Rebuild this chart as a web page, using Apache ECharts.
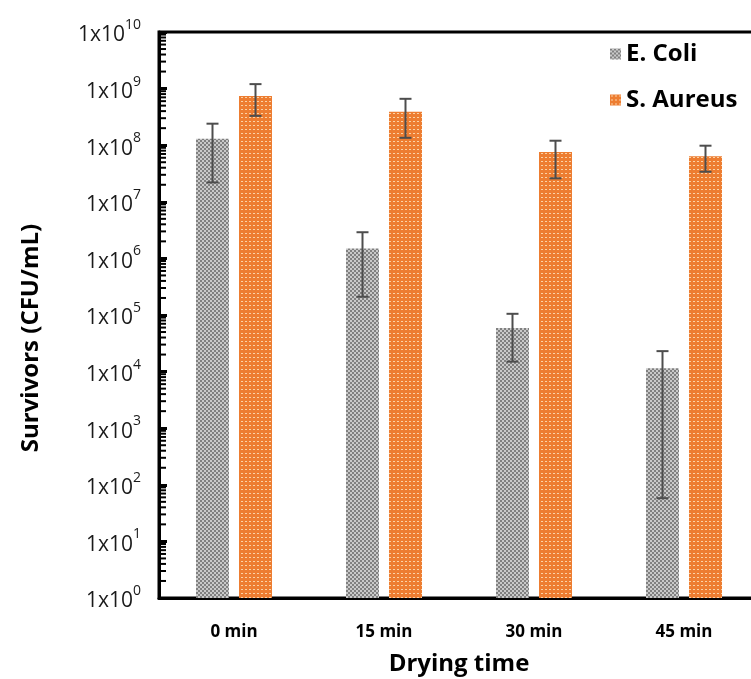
<!DOCTYPE html>
<html>
<head>
<meta charset="utf-8">
<script src="https://cdn.jsdelivr.net/npm/echarts@6/dist/echarts.min.js"></script>
<style>
  html, body { margin: 0; padding: 0; background: #fff; }
  #chart { width: 751px; height: 679px; }
</style>
</head>
<body>
<div id="chart"></div>
<script>
const categories = ['0 min', '15 min', '30 min', '45 min']
const eColi = [1.3e8, 1.5e6, 5.9e4, 1.15e4]
const eColiHigh = [2.4e8, 2.9e6, 1.05e5, 2.3e4]
const eColiLow = [2.2e7, 2.1e5, 1.5e4, 58]
const sAureus = [7.4e8, 3.9e8, 7.6e7, 6.4e7]
const sAureusHigh = [1.2e9, 6.6e8, 1.2e8, 9.8e7]
const sAureusLow = [3.3e8, 1.35e8, 2.6e7, 3.4e7]

// log axis decades 10^0 .. 10^10, minor ticks at 2..9 in each decade
const decades = [0, 1, 2, 3, 4, 5, 6, 7, 8, 9]
const minorSteps = [2, 3, 4, 5, 6, 7, 8, 9]
const minorTickValues = []
decades.forEach(function (d) {
  minorSteps.forEach(function (m) {
    minorTickValues.push(m * Math.pow(10, d))
  })
})

// bar patterns
function makePattern(size, bg, fg, dots) {
  const c = document.createElement('canvas')
  c.width = size
  c.height = size
  const ctx = c.getContext('2d')
  ctx.fillStyle = bg
  ctx.fillRect(0, 0, size, size)
  ctx.fillStyle = fg
  dots.forEach(function (d) {
    ctx.fillRect(d[0], d[1], d[2], d[3])
  })
  return {image: c, repeat: 'repeat'}
}

const grayPattern = makePattern(4, '#c9c9c9', '#808080', [[0, 0, 2, 2], [2, 2, 2, 2]])
const orangePattern = makePattern(4, '#ED7D31', '#fbd2a6', [[1, 1, 2, 1]])

const barWidth = 33
const barGapPx = 10
const halfStep = (barWidth + barGapPx) / 2

function errorSeries(name, low, high, offset) {
  return {
    name: name,
    type: 'custom',
    z: 10,
    silent: true,
    data: categories.map(function (c, i) { return [i, low[i], high[i]] }),
    encode: {x: 0, y: [1, 2]},
    renderItem: function (params, api) {
      const lo = api.coord([api.value(0), api.value(1)])
      const hi = api.coord([api.value(0), api.value(2)])
      const x = lo[0] + offset
      const cap = 6
      const style = {stroke: '#4d4d4d', lineWidth: 2}
      return {
        type: 'group',
        children: [
          {type: 'line', shape: {x1: x, y1: lo[1], x2: x, y2: hi[1]}, style: style},
          {type: 'line', shape: {x1: x - cap, y1: hi[1], x2: x + cap, y2: hi[1]}, style: style},
          {type: 'line', shape: {x1: x - cap, y1: lo[1], x2: x + cap, y2: lo[1]}, style: style}
        ]
      }
    }
  }
}

const chart = echarts.init(document.getElementById('chart'))
const option = {
  animation: false,
  backgroundColor: '#fff',
  grid: {
    left: 159,
    right: -8,
    top: 32,
    bottom: 81,
    outerBoundsMode: 'none',
    containLabel: false,
    show: true,
    borderColor: '#000',
    borderWidth: 3
  },
  legend: {
    data: ['E. Coli', 'S. Aureus'],
    orient: 'vertical',
    left: 605,
    top: 37,
    itemWidth: 11,
    itemHeight: 11,
    itemGap: 22,
    icon: 'rect',
    textStyle: {fontFamily: 'Open Sans', fontWeight: 'bold', fontSize: 24, color: '#000'}
  },
  xAxis: {
    type: 'category',
    data: categories,
    name: 'Drying time',
    nameLocation: 'middle',
    nameGap: 54,
    nameTextStyle: {fontFamily: 'Open Sans', fontWeight: 'bold', fontSize: 24, color: '#000'},
    axisLine: {lineStyle: {color: '#000', width: 3}},
    axisTick: {show: false},
    axisLabel: {margin: 26, fontFamily: 'Open Sans', fontWeight: 'bold', fontSize: 17, color: '#000'}
  },
  yAxis: {
    type: 'log',
    logBase: 10,
    min: 1,
    max: 1e10,
    interval: 1,
    name: 'Survivors (CFU/mL)',
    nameLocation: 'middle',
    nameGap: 116,
    nameTextStyle: {fontFamily: 'Open Sans', fontWeight: 'bold', fontSize: 24, color: '#000', padding: [0, 46, 0, 0]},
    axisLine: {show: true, lineStyle: {color: '#000', width: 3}},
    axisTick: {show: true, inside: true, length: 8, lineStyle: {color: '#000', width: 3}},
    minorTick: {show: false},
    splitLine: {show: false},
    axisLabel: {
      margin: 18,
      showMinLabel: true,
      showMaxLabel: true,
      formatter: function (v) {
        const e = Math.round(Math.log10(v))
        return '{b|1x10}{s|' + e + '}'
      },
      rich: {
        b: {fontFamily: 'Open Sans', fontSize: 21, color: '#1a1a1a', lineHeight: 28, verticalAlign: 'bottom'},
        s: {fontFamily: 'Open Sans', fontSize: 14, color: '#1a1a1a', lineHeight: 28, verticalAlign: 'top'}
      }
    }
  },
  series: [
    {
      name: 'E. Coli',
      type: 'bar',
      data: eColi,
      barWidth: barWidth,
      barGap: (barGapPx / barWidth * 100) + '%',
      itemStyle: {color: grayPattern}
    },
    {
      name: 'S. Aureus',
      type: 'bar',
      data: sAureus,
      barWidth: barWidth,
      itemStyle: {color: orangePattern}
    },
    errorSeries('E. Coli err', eColiLow, eColiHigh, -halfStep),
    errorSeries('S. Aureus err', sAureusLow, sAureusHigh, halfStep),
    {
      name: 'minor ticks',
      type: 'custom',
      silent: true,
      clip: false,
      z: 20,
      data: minorTickValues.map(function (v) { return [0, v] }),
      encode: {x: 0, y: 1},
      renderItem: function (params, api) {
        const p = api.coord([0, api.value(1)])
        const x0 = params.coordSys.x
        return {
          type: 'line',
          shape: {x1: x0, y1: p[1], x2: x0 + 7, y2: p[1]},
          style: {stroke: '#000', lineWidth: 2}
        }
      }
    }
  ]
}
chart.setOption(option)
window.addEventListener('resize', function () {
  chart.resize()
})
</script>
</body>
</html>
